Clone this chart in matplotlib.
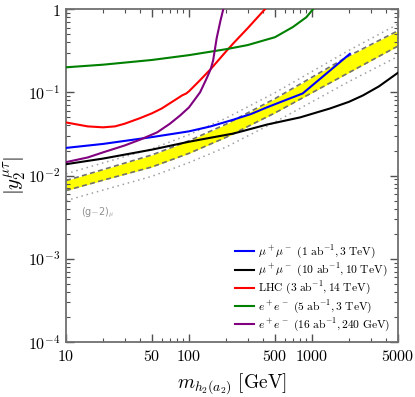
import matplotlib
matplotlib.use("Agg")
import matplotlib.pyplot as plt
from matplotlib.ticker import FixedLocator, FixedFormatter, LogLocator, NullFormatter

plt.rcParams['mathtext.fontset'] = 'cm'
plt.rcParams['font.family'] = 'DejaVu Serif'

# (g-2)_mu band
band_x = [10, 20, 50, 100, 200, 500, 1000, 2000, 5000]
band_up = [0.0087, 0.0118, 0.0177, 0.0262, 0.0414, 0.084, 0.152, 0.275, 0.55]
band_lo = [0.0066, 0.0088, 0.0127, 0.0185, 0.0288, 0.0566, 0.099, 0.173, 0.36]
dot_up = [0.0105, 0.0142, 0.021, 0.031, 0.049, 0.099, 0.178, 0.32, 0.66]
dot_lo = [0.0050, 0.0067, 0.0098, 0.0143, 0.022, 0.044, 0.077, 0.135, 0.27]

# mu+mu- 3 TeV
mu3_x = [10, 20, 50, 100, 150, 230, 320, 430, 600, 840, 2030]
mu3_y = [0.0215, 0.024, 0.029, 0.034, 0.039, 0.047, 0.055, 0.066, 0.08, 0.097, 0.29]

# mu+mu- 10 TeV
mu10_x = [10, 20, 50, 100, 150, 230, 430, 800, 1400, 2000, 2600, 3500, 5000]
mu10_y = [0.0137, 0.016, 0.0205, 0.0255, 0.0285, 0.032, 0.041, 0.05, 0.064, 0.077, 0.092, 0.118, 0.172]

# LHC
lhc_x = [10, 15, 20, 25, 30, 40, 50, 60, 75, 88, 95, 100, 123, 150, 200, 230, 300, 415]
lhc_y = [0.0435, 0.039, 0.038, 0.039, 0.042, 0.049, 0.056, 0.064, 0.079, 0.092, 0.097,
         0.103, 0.14, 0.19, 0.31, 0.39, 0.59, 1.0]

# e+e- 3 TeV
ee3_x = [10, 20, 50, 100, 200, 300, 500, 700, 900, 1020]
ee3_y = [0.2, 0.215, 0.245, 0.28, 0.33, 0.37, 0.46, 0.61, 0.8, 1.0]

# e+e- 240 GeV
ee240_x = [10, 15, 20, 30, 40, 55, 70, 85, 100, 123, 140, 150, 157, 168, 180, 190]
ee240_y = [0.0145, 0.0165, 0.019, 0.023, 0.027, 0.033, 0.042, 0.053, 0.066, 0.1,
           0.15, 0.19, 0.24, 0.45, 0.72, 1.0]

fig = plt.figure(figsize=(4.15, 3.97), dpi=100)
ax = fig.add_axes([0.159, 0.1385, 0.8, 0.8385])

ax.fill_between(band_x, band_lo, band_up, color='#ffff00', lw=0, zorder=1)
ax.plot(band_x, band_up, color='#707070', ls=(0, (3, 2)), lw=1.2, zorder=2)
ax.plot(band_x, band_lo, color='#707070', ls=(0, (3, 2)), lw=1.2, zorder=2)
ax.plot(band_x, dot_up, color='#a0a0a0', ls=(0, (1, 2.5)), lw=1.1, zorder=2)
ax.plot(band_x, dot_lo, color='#a0a0a0', ls=(0, (1, 2.5)), lw=1.1, zorder=2)

ax.plot(mu3_x, mu3_y, color='#0000ff', lw=1.5, zorder=3,
        label=r'$\mu^+\mu^-\ (1\ \mathrm{ab}^{-1}, 3\ \mathrm{TeV})$')
ax.plot(mu10_x, mu10_y, color='black', lw=1.5, zorder=3,
        label=r'$\mu^+\mu^-\ (10\ \mathrm{ab}^{-1}, 10\ \mathrm{TeV})$')
ax.plot(lhc_x, lhc_y, color='#ff0000', lw=1.5, zorder=3,
        label=r'$\mathrm{LHC}\ (3\ \mathrm{ab}^{-1}, 14\ \mathrm{TeV})$')
ax.plot(ee3_x, ee3_y, color='#008000', lw=1.5, zorder=3,
        label=r'$e^+e^-\ (5\ \mathrm{ab}^{-1}, 3\ \mathrm{TeV})$')
ax.plot(ee240_x, ee240_y, color='#800080', lw=1.5, zorder=3,
        label=r'$e^+e^-\ (16\ \mathrm{ab}^{-1}, 240\ \mathrm{GeV})$')

ax.text(13.3, 0.0036, r'(g$-$2)$_\mu$', color='#909090', fontsize=7,
        family='DejaVu Sans', va='center')

ax.set_xscale('log')
ax.set_yscale('log')
ax.set_xlim(10, 5000)
ax.set_ylim(1e-4, 1)

xt = [10, 50, 100, 500, 1000, 5000]
ax.xaxis.set_major_locator(FixedLocator(xt))
ax.xaxis.set_major_formatter(FixedFormatter(['$%d$' % v for v in xt]))
ax.xaxis.set_minor_locator(LogLocator(base=10, subs=[2, 3, 4, 6, 7, 8, 9]))
ax.xaxis.set_minor_formatter(NullFormatter())

yt = [1e-4, 1e-3, 1e-2, 1e-1, 1]
ax.yaxis.set_major_locator(FixedLocator(yt))
ax.yaxis.set_major_formatter(FixedFormatter([r'$10^{-4}$', r'$10^{-3}$', r'$10^{-2}$',
                                             r'$10^{-1}$', r'$1$']))
ax.yaxis.set_minor_locator(LogLocator(base=10, subs=range(2, 10)))
ax.yaxis.set_minor_formatter(NullFormatter())

for s in ax.spines.values():
    s.set_color('#707070')
    s.set_linewidth(1.3)
ax.tick_params(which='both', direction='in', top=True, right=True, colors='#505050',
               labelcolor='black', labelsize=11.5)
ax.tick_params(which='major', length=6, width=1, pad=4)
ax.tick_params(which='minor', length=3, width=0.8)

ax.set_xlabel(r'$m_{h_2(a_2)}\ [\mathrm{GeV}]$', fontsize=14, labelpad=5)
ax.set_ylabel(r'$|y_2^{\mu\tau}|$', fontsize=15, labelpad=0)

ax.legend(loc='lower right', frameon=False, fontsize=8.3, handlelength=1.7,
          handletextpad=0.3, labelspacing=0.1, borderaxespad=0.3)

fig.savefig('out.png', dpi=100)
